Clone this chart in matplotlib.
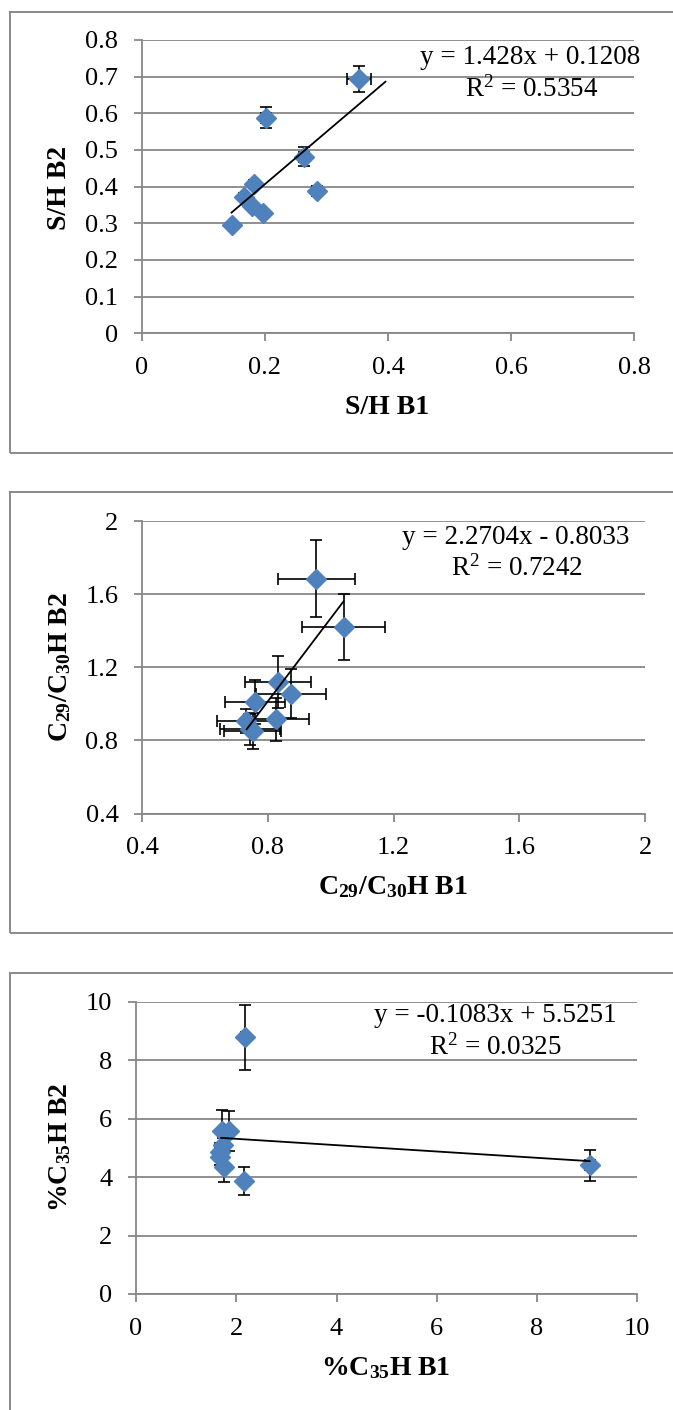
import matplotlib
matplotlib.use("Agg")
import matplotlib.pyplot as plt
from matplotlib.patches import Rectangle
import numpy as np

plt.rcParams['font.family'] = ['Liberation Serif', 'DejaVu Serif']
plt.rcParams['mathtext.fontset'] = 'custom'
plt.rcParams['mathtext.rm'] = 'Liberation Serif'
plt.rcParams['mathtext.it'] = 'Liberation Serif:italic'
plt.rcParams['mathtext.bf'] = 'Liberation Serif:bold'

# ---------------- data ----------------
# Panel 1: S/H
sh_b1 = [0.353, 0.202, 0.264, 0.284, 0.183, 0.167, 0.179, 0.197, 0.146]
sh_b2 = [0.693, 0.588, 0.482, 0.389, 0.407, 0.373, 0.348, 0.328, 0.296]
sh_b1_err = [0.019, 0.008, 0.008, 0.008, 0.006, 0.005, 0.005, 0.006, 0.004]
sh_b2_err = [0.035, 0.028, 0.025, 0.012, 0.012, 0.010, 0.010, 0.010, 0.008]
sh_fit = (1.428, 0.1208)
sh_fit_range = [0.146, 0.396]
sh_eq = ["y = 1.428x + 0.1208", r"R$^2$ = 0.5354"]

# Panel 2: C29/C30H
c29_b1 = [0.955, 1.041, 0.833, 0.874, 0.760, 0.827, 0.731, 0.743, 0.752]
c29_b2 = [1.684, 1.420, 1.120, 1.056, 1.008, 0.915, 0.907, 0.860, 0.852]
c29_b1_err = [0.121, 0.131, 0.105, 0.111, 0.095, 0.104, 0.092, 0.096, 0.090]
c29_b2_err = [0.210, 0.178, 0.142, 0.136, 0.120, 0.116, 0.065, 0.085, 0.100]
c29_fit = (2.2704, -0.8033)
c29_fit_range = [0.733, 1.041]
c29_eq = ["y = 2.2704x - 0.8033", r"R$^2$ = 0.7242"]

# Panel 3: %C35H
c35_b1 = [2.18, 1.72, 1.85, 1.74, 1.68, 1.68, 1.76, 2.15, 9.05]
c35_b2 = [8.78, 5.58, 5.58, 5.10, 4.85, 4.70, 4.33, 3.87, 4.40]
c35_b1_err = [0.08, 0.06, 0.06, 0.05, 0.05, 0.05, 0.06, 0.06, 0.10]
c35_b2_err = [1.10, 0.70, 0.68, 0.25, 0.30, 0.30, 0.50, 0.48, 0.54]
c35_fit = (-0.1083, 5.5251)
c35_fit_range = [1.70, 9.05]
c35_eq = ["y = -0.1083x + 5.5251", r"R$^2$ = 0.0325"]

W, H = 673, 1410
fig = plt.figure(figsize=(W / 100, H / 100), dpi=100)

GRID = '#878787'
BLUE = '#4F81BD'
FS_TICK = 19
FS_EQ = 19.5
FS_LAB = 20


def fx(px):
    return px / W


def fy(py):
    return 1 - py / H


def panel(box, axpx, xs, ys, xe, ye, fit, frange, xlim, ylim, xt, yt,
          xtl, ytl, eq, eqpos, xlabel, xlpos, ylabel, ylpos):
    # outer chart border
    bx0, by0, by1 = box
    fig.add_artist(Rectangle((fx(bx0), fy(by1)), 1.2, (by1 - by0) / H,
                             transform=fig.transFigure, fill=False,
                             ec='#8a8a8a', lw=1.4, zorder=0))
    l, t, r, b = axpx
    ax = fig.add_axes([fx(l), fy(b), (r - l) / W, (b - t) / H])
    ax.set_xlim(*xlim)
    ax.set_ylim(*ylim)
    ax.set_xticks(xt)
    ax.set_xticklabels(xtl)
    ax.set_yticks(yt)
    ax.set_yticklabels(ytl)
    for s in ['top', 'right']:
        ax.spines[s].set_visible(False)
    for s in ['left', 'bottom']:
        ax.spines[s].set_color(GRID)
        ax.spines[s].set_linewidth(1.3)
    ax.yaxis.grid(True, color=GRID, lw=1.3, zorder=0)
    ax.set_axisbelow(True)
    ax.tick_params(axis='both', length=6, width=1.3, color=GRID,
                   labelsize=FS_TICK, pad=11)
    ax.errorbar(xs, ys, xerr=xe, yerr=ye, fmt='D', ms=10.5,
                mfc=BLUE, mec=BLUE, ecolor='black', elinewidth=1.2,
                capsize=4.2, capthick=1.2, zorder=3, clip_on=False)
    xl = np.array(frange)
    ax.plot(xl, fit[0] * xl + fit[1], color='black', lw=1.3, zorder=4)
    (ex, ey), (rx, ry) = eqpos
    fig.text(fx(ex), fy(ey), eq[0], ha='center', va='center', fontsize=FS_EQ)
    fig.text(fx(rx), fy(ry), eq[1], ha='center', va='center', fontsize=FS_EQ)
    fig.text(fx(xlpos[0]), fy(xlpos[1]), xlabel, ha='center', va='center',
             fontsize=FS_LAB, fontweight='bold')
    fig.text(fx(ylpos[0]), fy(ylpos[1]), ylabel, ha='center', va='center',
             fontsize=FS_LAB, fontweight='bold', rotation=90)
    return ax


panel((10, 12, 453), (141.6, 40, 634.3, 333.3),
      sh_b1, sh_b2, sh_b1_err, sh_b2_err, sh_fit, sh_fit_range,
      (0, 0.8), (0, 0.8),
      [0, 0.2, 0.4, 0.6, 0.8], [0, 0.1, 0.2, 0.3, 0.4, 0.5, 0.6, 0.7, 0.8],
      ['0', '0.2', '0.4', '0.6', '0.8'],
      ['0', '0.1', '0.2', '0.3', '0.4', '0.5', '0.6', '0.7', '0.8'],
      sh_eq, ((530, 58), (532, 89)),
      'S/H B1', (387, 407), 'S/H B2', (60, 188))

panel((10, 492, 933), (142, 521, 645, 813.5),
      c29_b1, c29_b2, c29_b1_err, c29_b2_err, c29_fit, c29_fit_range,
      (0.4, 2.0), (0.4, 2.0),
      [0.4, 0.8, 1.2, 1.6, 2.0], [0.4, 0.8, 1.2, 1.6, 2.0],
      ['0.4', '0.8', '1.2', '1.6', '2'], ['0.4', '0.8', '1.2', '1.6', '2'],
      c29_eq, ((516, 538), (517, 568)),
      r'$\mathbf{C_{29}/C_{30}H\ B1}$', (393, 887),
      r'$\mathbf{C_{29}/C_{30}H\ B2}$', (60, 667))

panel((10, 973, 1425), (136, 1001.7, 637.3, 1294),
      c35_b1, c35_b2, c35_b1_err, c35_b2_err, c35_fit, c35_fit_range,
      (0, 10), (0, 10),
      [0, 2, 4, 6, 8, 10], [0, 2, 4, 6, 8, 10],
      ['0', '2', '4', '6', '8', '10'], ['0', '2', '4', '6', '8', '10'],
      c35_eq, ((495, 1015), (495, 1047)),
      r'$\mathbf{\%C_{35}H\ B1}$', (386, 1368),
      r'$\mathbf{\%C_{35}H\ B2}$', (60, 1147))

fig.savefig('out.png', dpi=100)
